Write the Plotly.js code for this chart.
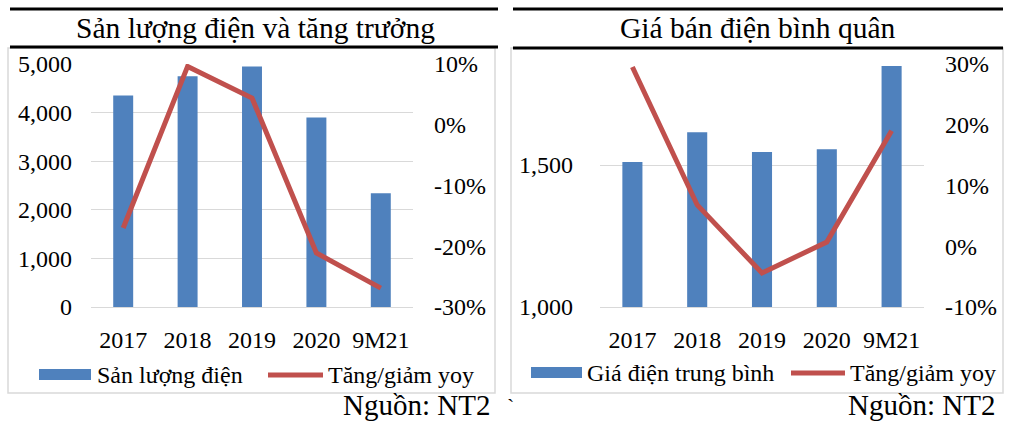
<!DOCTYPE html>
<html><head><meta charset="utf-8">
<script src="https://cdn.plot.ly/plotly-3.0.1.min.js"></script>
<style>html,body{margin:0;padding:0;background:#fff}#chart{width:1018px;height:422px}</style>
</head><body><div id="chart"></div>
<script>
const categories = ['2017', '2018', '2019', '2020', '9M21'];
const outputValues = [4350, 4750, 4950, 3900, 2340];
const outputYoy = [-0.17, 0.096, 0.044, -0.211, -0.269];
const priceValues = [1511, 1616, 1546, 1556, 1849];
const priceYoy = [0.295, 0.068, -0.044, 0.007, 0.19];

const leftTitle = 'Sản lượng điện và tăng trưởng';
const rightTitle = 'Giá bán điện bình quân';
const outputName = 'Sản lượng điện';
const priceName = 'Giá điện trung bình';
const yoyName = 'Tăng/giảm yoy';
const sourceText = 'Nguồn: NT2';

const outputTickVals = [0, 1000, 2000, 3000, 4000, 5000];
const outputTickText = ['0', '1,000', '2,000', '3,000', '4,000', '5,000'];
const outputYoyTickVals = [-0.3, -0.2, -0.1, 0, 0.1];
const outputYoyTickText = ['-30%', '-20%', '-10%', '0%', '10%'];
const priceTickVals = [1000, 1500];
const priceTickText = ['1,000', '1,500'];
const priceYoyTickVals = [-0.1, 0, 0.1, 0.2, 0.3];
const priceYoyTickText = ['-10%', '0%', '10%', '20%', '30%'];

const W = 1018, H = 422;
const px = x => x / W;
const py = y => 1 - y / H;
const FONT = 'Liberation Serif, Times New Roman, serif';
const BLUE = '#4f81bd', RED = '#c0504d', GRID = '#d9d9d9';
const tickFont = {family: FONT, size: 24, color: '#000'};

const traces = [
  {type: 'bar', x: categories, y: outputValues, name: outputName, xaxis: 'x', yaxis: 'y',
   marker: {color: BLUE}, showlegend: false, hoverinfo: 'skip'},
  {type: 'scatter', mode: 'lines', x: categories, y: outputYoy, name: yoyName, xaxis: 'x', yaxis: 'y2',
   line: {color: RED, width: 5}, showlegend: false, hoverinfo: 'skip'},
  {type: 'bar', x: categories, y: priceValues, name: priceName, xaxis: 'x2', yaxis: 'y3',
   marker: {color: BLUE}, showlegend: false, hoverinfo: 'skip'},
  {type: 'scatter', mode: 'lines', x: categories, y: priceYoy, name: yoyName, xaxis: 'x2', yaxis: 'y4',
   line: {color: RED, width: 5}, showlegend: false, hoverinfo: 'skip'}
];

const yDom = [py(307), py(64)];
const xBase = {type: 'category', tickfont: tickFont, showgrid: false, zeroline: false,
  showline: true, linecolor: GRID, linewidth: 1, ticks: '', ticklabelstandoff: 11, fixedrange: true};
const yBase = {tickfont: tickFont, zeroline: false, showline: false, ticks: '', fixedrange: true};

const layout = {
  width: W, height: H,
  margin: {l: 0, r: 0, t: 0, b: 0},
  paper_bgcolor: '#fff', plot_bgcolor: 'rgba(0,0,0,0)',
  bargap: 0.69,
  showlegend: false,
  font: {family: FONT, color: '#000'},
  xaxis: Object.assign({}, xBase, {domain: [px(91), px(413)], anchor: 'y'}),
  yaxis: Object.assign({}, yBase, {domain: yDom, anchor: 'x', range: [0, 5000],
    tickmode: 'array', tickvals: outputTickVals, ticktext: outputTickText,
    showgrid: true, gridcolor: GRID, gridwidth: 1, ticklabelstandoff: 18}),
  yaxis2: Object.assign({}, yBase, {overlaying: 'y', side: 'right', anchor: 'x', range: [-0.3, 0.1],
    tickmode: 'array', tickvals: outputYoyTickVals, ticktext: outputYoyTickText,
    showgrid: false, ticklabelstandoff: 20}),
  xaxis2: Object.assign({}, xBase, {domain: [px(600), px(924)], anchor: 'y3'}),
  yaxis3: Object.assign({}, yBase, {domain: yDom, anchor: 'x2', range: [1000, 1856],
    tickmode: 'array', tickvals: priceTickVals, ticktext: priceTickText,
    showgrid: true, gridcolor: GRID, gridwidth: 1, ticklabelstandoff: 26}),
  yaxis4: Object.assign({}, yBase, {overlaying: 'y3', side: 'right', anchor: 'x2', range: [-0.1, 0.3],
    tickmode: 'array', tickvals: priceYoyTickVals, ticktext: priceYoyTickText,
    showgrid: false, ticklabelstandoff: 20}),
  shapes: [
    {type: 'rect', xref: 'paper', yref: 'paper', x0: px(8), x1: px(495), y0: py(393), y1: py(48),
     line: {color: GRID, width: 1.5}, layer: 'below'},
    {type: 'rect', xref: 'paper', yref: 'paper', x0: px(511), x1: px(1003), y0: py(393), y1: py(48),
     line: {color: GRID, width: 1.5}, layer: 'below'},
    {type: 'line', xref: 'paper', yref: 'paper', x0: px(10), x1: px(498), y0: py(9), y1: py(9), line: {color: '#000', width: 3}},
    {type: 'line', xref: 'paper', yref: 'paper', x0: px(10), x1: px(498), y0: py(47), y1: py(47), line: {color: '#000', width: 3}},
    {type: 'line', xref: 'paper', yref: 'paper', x0: px(513), x1: px(1003), y0: py(9), y1: py(9), line: {color: '#000', width: 3}},
    {type: 'line', xref: 'paper', yref: 'paper', x0: px(513), x1: px(1003), y0: py(48), y1: py(48), line: {color: '#000', width: 3}},
    {type: 'rect', xref: 'paper', yref: 'paper', x0: px(39), x1: px(91), y0: py(380), y1: py(369),
     fillcolor: BLUE, line: {width: 0}},
    {type: 'line', xref: 'paper', yref: 'paper', x0: px(268), x1: px(323), y0: py(375), y1: py(375),
     line: {color: RED, width: 5}},
    {type: 'rect', xref: 'paper', yref: 'paper', x0: px(531), x1: px(582), y0: py(378), y1: py(367),
     fillcolor: BLUE, line: {width: 0}},
    {type: 'line', xref: 'paper', yref: 'paper', x0: px(791), x1: px(845), y0: py(373), y1: py(373),
     line: {color: RED, width: 5}}
  ],
  annotations: [
    {xref: 'paper', yref: 'paper', x: px(255), y: py(28), text: leftTitle, showarrow: false,
     xanchor: 'center', yanchor: 'middle', font: {family: FONT, size: 29.5, color: '#000'}},
    {xref: 'paper', yref: 'paper', x: px(758), y: py(28), text: rightTitle, showarrow: false,
     xanchor: 'center', yanchor: 'middle', font: {family: FONT, size: 29.5, color: '#000'}},
    {xref: 'paper', yref: 'paper', x: px(95), y: py(375), text: outputName, showarrow: false,
     xanchor: 'left', yanchor: 'middle', font: {family: FONT, size: 24, color: '#000'}},
    {xref: 'paper', yref: 'paper', x: px(326), y: py(375), text: yoyName, showarrow: false,
     xanchor: 'left', yanchor: 'middle', font: {family: FONT, size: 24, color: '#000'}},
    {xref: 'paper', yref: 'paper', x: px(585), y: py(373), text: priceName, showarrow: false,
     xanchor: 'left', yanchor: 'middle', font: {family: FONT, size: 24, color: '#000'}},
    {xref: 'paper', yref: 'paper', x: px(848), y: py(373), text: yoyName, showarrow: false,
     xanchor: 'left', yanchor: 'middle', font: {family: FONT, size: 24, color: '#000'}},
    {xref: 'paper', yref: 'paper', x: px(492), y: py(405), text: sourceText, showarrow: false,
     xanchor: 'right', yanchor: 'middle', font: {family: FONT, size: 29, color: '#000'}},
    {xref: 'paper', yref: 'paper', x: px(997), y: py(405), text: sourceText, showarrow: false,
     xanchor: 'right', yanchor: 'middle', font: {family: FONT, size: 29, color: '#000'}},
    {xref: 'paper', yref: 'paper', x: px(510), y: py(406), text: '`', showarrow: false,
     xanchor: 'center', yanchor: 'middle', font: {family: FONT, size: 22, color: '#000'}}
  ]
};

Plotly.newPlot('chart', traces, layout, {staticPlot: true, displayModeBar: false});
</script>
</body></html>
